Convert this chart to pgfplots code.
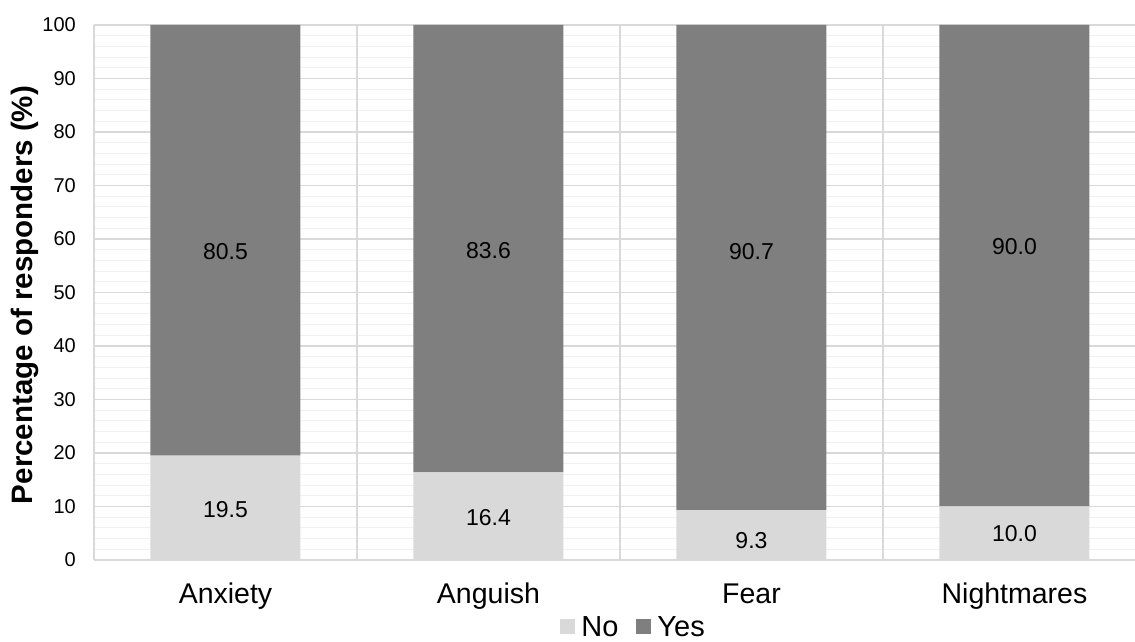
\documentclass[border=0pt]{standalone}
\usepackage{pgfplots}
\usepackage{pgfplotstable}
\pgfplotsset{compat=1.18}
\usepackage{fontspec}
\setmainfont{Liberation Sans}

\definecolor{yescol}{HTML}{7F7F7F}
\definecolor{nocol}{HTML}{D9D9D9}
\definecolor{majgrid}{HTML}{D9D9D9}
\definecolor{mingrid}{HTML}{F0F0F0}

% Share of responders answering No / Yes for each symptom
\pgfplotstableread{
x no   yes
0 19.5 80.5
1 16.4 83.6
2 9.3  90.7
3 10.0 90.0
}\responses

% Where each value label sits inside its segment
\pgfplotstableread{
x ypos lab
0 9.35 19.5
1 8.0  16.4
2 3.7  9.3
3 4.9  10.0
0 57.6 80.5
1 57.9 83.6
2 57.6 90.7
3 58.5 90.0
}\labels

\pgfplotsset{
  chartframe/.style={
    at={(94pt,82pt)}, anchor=south west,
    scale only axis, width=1052pt, height=535pt,
    xmin=-0.5, xmax=3.5, ymin=0, ymax=100,
  }
}

\begin{document}
\begin{tikzpicture}[x=1pt,y=1pt]
\begin{axis}[
  chartframe,
  ybar stacked, bar width=150pt,
  xtick={0,1,2,3},
  xticklabels={Anxiety,Anguish,Fear,Nightmares},
  xticklabel style={font=\fontsize{28.5}{32}\selectfont, anchor=base, inner sep=0pt, yshift=-44pt},
  extra x ticks={-0.5,0.5,1.5,2.5,3.5},
  extra x tick labels={},
  extra x tick style={grid=major, major grid style={majgrid, line width=1.3pt}},
  ytick distance=10,
  minor y tick num=4,
  ymajorgrids, yminorgrids,
  major grid style={majgrid, line width=1.3pt},
  minor grid style={mingrid, line width=1.1pt},
  major tick length=0pt, minor tick length=0pt,
  yticklabel style={font=\fontsize{20}{23}\selectfont, anchor=east, inner sep=0pt, xshift=-18pt},
  /pgf/number format/assume math mode=true,
  axis line style={draw=none},
  legend style={at={(0.512,-0.1439)}, anchor=south, draw=none, fill=none,
    legend columns=2,
    nodes={font=\fontsize{29}{32}\selectfont, text depth=0pt, inner sep=0pt},
    /tikz/every even column/.append style={column sep=18pt},
    /tikz/every odd column/.append style={column sep=6pt},
    legend cell align=left, inner sep=0pt},
  legend image code/.code={\fill[#1] (0pt,-7.5pt) rectangle (15pt,7.5pt);},
]
\addplot[fill=nocol, draw=none] table[x=x, y=no] {\responses};
\addplot[fill=yescol, draw=none] table[x=x, y=yes] {\responses};
\legend{No,Yes}
\end{axis}

% Value labels, one per segment
\begin{axis}[chartframe, hide axis]
\addplot[only marks, mark=none, nodes near coords, point meta=explicit symbolic,
  nodes near coords align=center,
  every node near coord/.style={font=\fontsize{23}{26}\selectfont, inner sep=0pt, anchor=center, black}]
  table[x=x, y=ypos, meta=lab] {\labels};
\end{axis}

\node[rotate=90, font=\bfseries\fontsize{29.5}{33}\selectfont] at (25,347) {Percentage of responders (\%)};
\pgfresetboundingbox
\useasboundingbox (0,0) rectangle (1135,642);
\end{tikzpicture}
\end{document}
